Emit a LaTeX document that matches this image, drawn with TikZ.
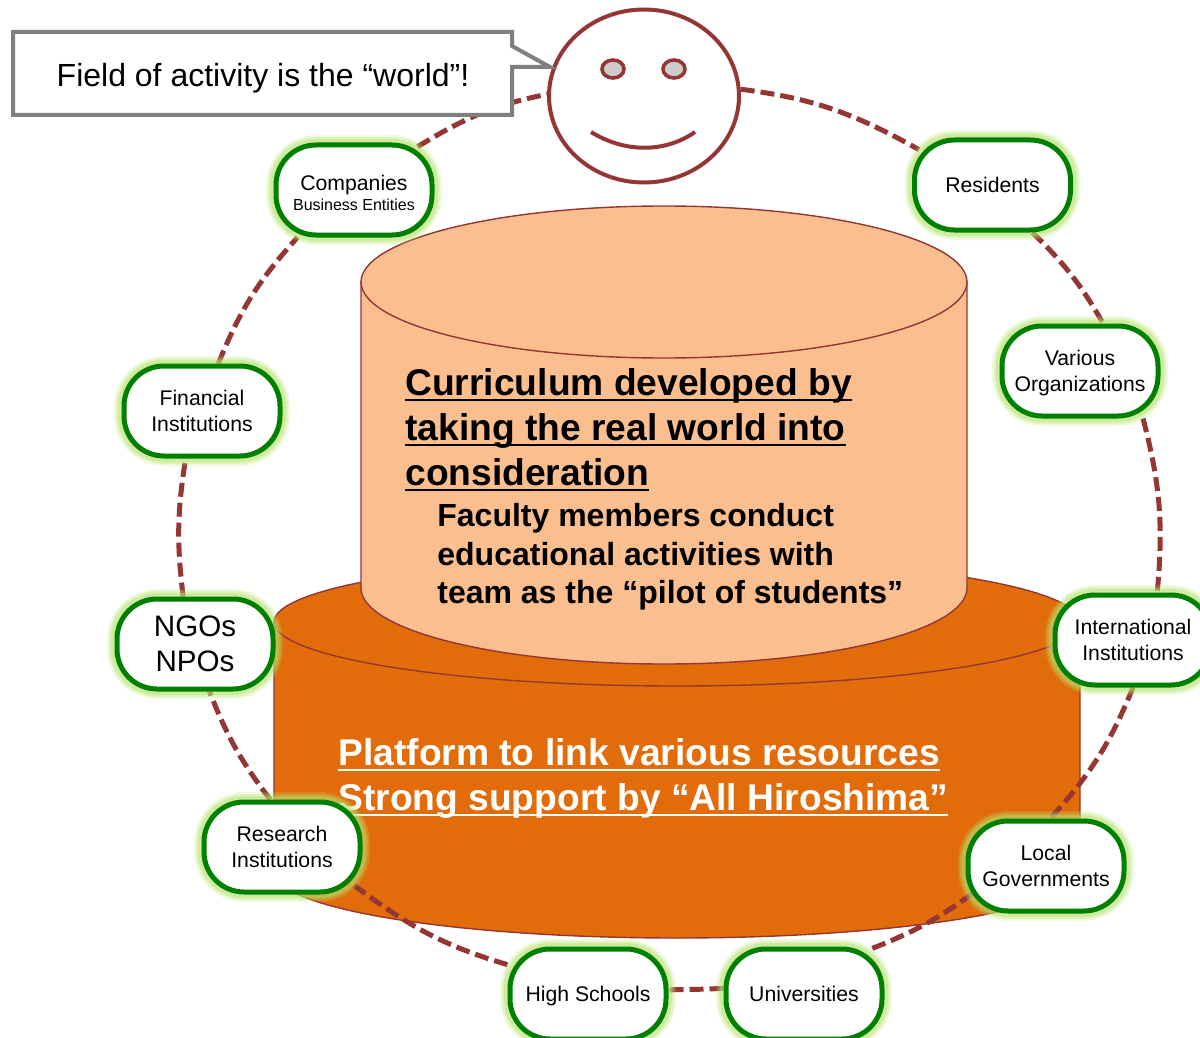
\documentclass[tikz,border=0pt]{standalone}
\usepackage{fontspec}
\setmainfont{Liberation Sans}
\usetikzlibrary{shapes.geometric}
\pgfdeclarelayer{base}
\pgfdeclarelayer{ring}
\pgfsetlayers{base,ring,main}
\definecolor{ringred}{HTML}{943634}
\definecolor{peach}{HTML}{FBBF8F}
\definecolor{platorange}{HTML}{E36C0A}
\definecolor{glowgreen}{HTML}{B5E36C}
\definecolor{boxgreen}{HTML}{008000}
\definecolor{calloutgray}{HTML}{7F7F7F}
\newcommand{\ruled}[1]{\setbox0=\hbox{#1}\rlap{\rule[-3pt]{\wd0}{1.1pt}}\box0}
\tikzset{
    actor/.style={draw=boxgreen, line width=2.5pt, fill=white, rounded corners=20pt,
        minimum width=78pt, minimum height=45pt, align=center, inner sep=0pt,
        font=\fontsize{10.6}{12.8}\selectfont,
        preaction={draw=glowgreen, line width=10pt, draw opacity=.2},
        preaction={draw=glowgreen, line width=8pt, draw opacity=.3},
        preaction={draw=glowgreen, line width=6pt, draw opacity=.4}},
    ringline/.style={draw=ringred, line width=2.5pt, dash pattern=on 7pt off 3pt},
    drum/.style={draw=ringred, line width=.7pt},
    eye/.style={ellipse, draw=ringred, line width=1.8pt, fill=black!20, minimum width=11pt, minimum height=9pt, inner sep=0pt},
    headline/.style={align=left, inner sep=0pt, anchor=north west,
        font=\bfseries\fontsize{18.6}{22.5}\selectfont},
}
\begin{document}
\begin{tikzpicture}[x=.5pt, y=-.5pt]
    \useasboundingbox (0,0) rectangle (1200,1038);

    % Platform and curriculum
    \begin{pgfonlayer}{base}
    \draw[drum, fill=platorange] (274,622) -- (274,872) arc[start angle=180, end angle=360, x radius=403, y radius=-66] -- (1080,622) -- cycle;
    \draw[drum, fill=platorange] (677,622) ellipse[x radius=403, y radius=64];
    \draw[drum, fill=peach] (361,282) -- (361,588) arc[start angle=180, end angle=360, x radius=303, y radius=-76] -- (967,282) -- cycle;
    \draw[drum, fill=peach] (664,282) ellipse[x radius=303, y radius=76];

    \node[headline] (curriculum) at (405,368) {\ruled{Curriculum developed by}\\\ruled{taking the real world into}\\\ruled{consideration}};
    \node[headline, font=\bfseries\fontsize{16}{19.25}\selectfont] (faculty) at (437,503)
        {Faculty members conduct\\educational activities with\\team as the “pilot of students”};
    \node[headline, text=white] (platform) at (338,738) {\ruled{Platform to link various resources}\\\ruled{Strong support by “All Hiroshima”}};
    \end{pgfonlayer}

    % Face
    \node (face) at (644,96) [ellipse, draw=ringred, line width=2pt, fill=white, minimum width=95pt, minimum height=86.5pt, inner sep=0pt] {};
    \node (eyeleft) at (613,69) [eye] {};
    \node (eyeright) at (674,69) [eye] {};
    \draw[draw=ringred, line width=2pt] (591,132) .. controls (625,153) and (665,153) .. (695,132);

    % Actors
    \node (residents) at (992.5,185)[actor] {Residents};
    \node (various) at (1080,371)[actor, text depth=0pt] {Various\\Organizations};
    \node (international) at (1133,640)[actor] {International\\Institutions};
    \node (local) at (1046,866)[actor] {Local\\Governments};
    \node (universities) at (804,994)[actor] {Universities};
    \node (highschools) at (588,994)[actor, text depth=0pt] {High Schools};
    \node (research) at (282,847)[actor] {Research\\Institutions};
    \node (ngos) at (195,644)[actor, font=\fontsize{14.8}{17.5}\selectfont] {NGOs\\NPOs};
    \node (financial) at (202,411)[actor] {Financial\\Institutions};
    \node (companies) at (354,190)[actor] {\rule{0pt}{10.5pt}Companies\\[-3pt]{\fontsize{8}{10}\selectfont Business Entities}};

    % Ring
    \begin{pgfonlayer}{ring}
    \draw[ringline]
        (face.4) edge[bend left=11, shorten >=-4pt] (residents.154)
        (residents.-50) edge[bend left=8] (various.64)
        (various.-37) edge[bend left=10] (international.63)
        (international.-90) edge[bend left=10] (local.85)
        (local.202) edge[bend left=7, shorten <=-4pt, shorten >=-5pt] (universities.33)
        (universities.176) edge[bend left=1] (highschools.3)
        (highschools.160) edge[bend left=10, shorten >=-5pt] (research.-29)
        (research.104) edge[bend left=8] (ngos.-73)
        (ngos.104) edge[bend left=8] (financial.-109)
        (financial.71) edge[bend left=10] (companies.220)
        (companies.34) edge[bend left=10, shorten <=-4pt] (face.179);
    \end{pgfonlayer}

    % Callout
    \draw[draw=calloutgray, line width=2pt, fill=white] (13,32) -- (512,32) -- (512,46) -- (550,67) -- (512,67) -- (512,115) -- (13,115) -- cycle;
    \node (field) at (263,78) [font=\fontsize{16}{20}\selectfont] {Field of activity is the “world”!};
\end{tikzpicture}
\end{document}
